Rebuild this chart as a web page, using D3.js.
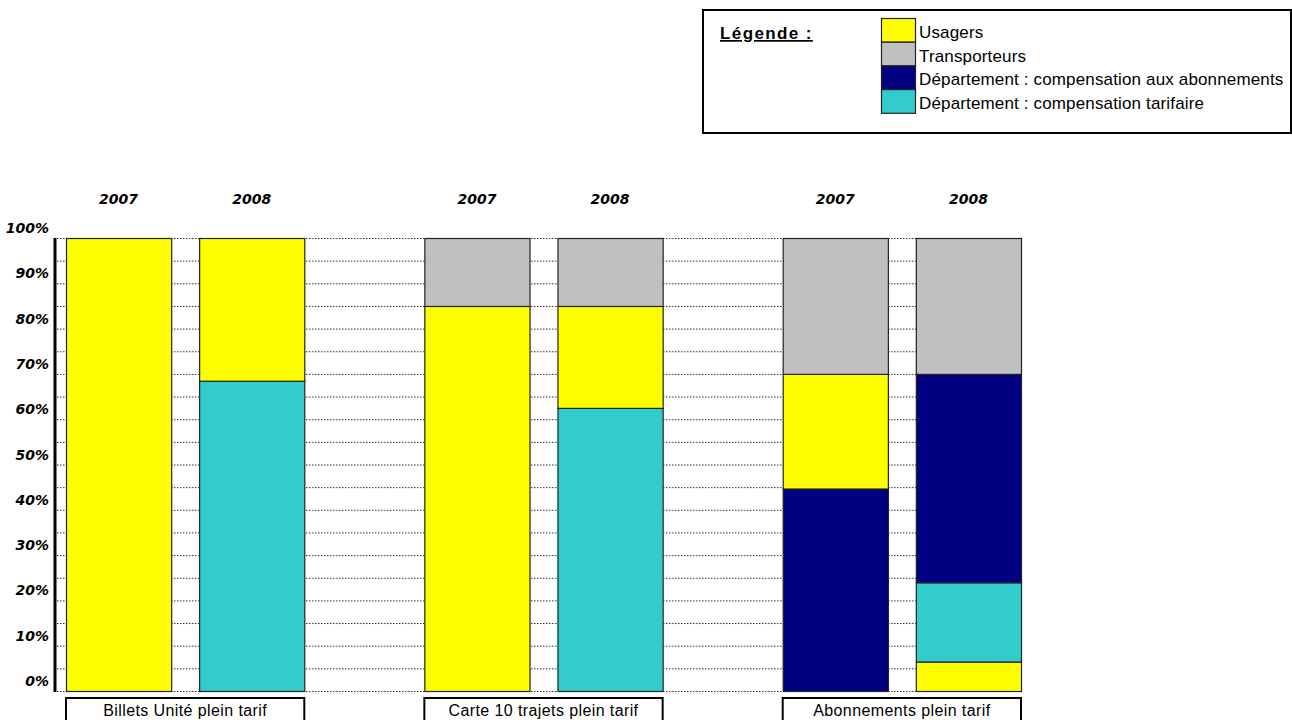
<!DOCTYPE html>
<html><head><meta charset="utf-8">
<script src="https://cdn.jsdelivr.net/npm/d3@7"></script>
<style>body{margin:0;background:#fff}svg{display:block}</style>
</head><body>
<svg id="c" width="1292" height="720"></svg>
<script>
const seriesNames = ["Usagers","Transporteurs","Département : compensation aux abonnements","Département : compensation tarifaire"];
const seriesColors = ["#ffff00","#c0c0c0","#000080","#33cccc"];
const categories = ["Billets Unité plein tarif","Carte 10 trajets plein tarif","Abonnements plein tarif"];
const years = ["2007","2008"];
// one value per bar (cat × year), in percent
const usagers         = [100, 31.5, 85, 22.5, 25.3, 6.5];
const transporteurs   = [0, 0, 15, 15, 30, 30];
const compAbonnements = [0, 0, 0, 0, 44.7, 46];
const compTarifaire   = [0, 68.5, 0, 62.5, 0, 17.5];
// stacking order (bottom to top) per bar, as series index
const stackOrder = [[0],[3,0],[0,1],[3,0,1],[2,0,1],[0,3,2,1]];
const yTicks = [0,10,20,30,40,50,60,70,80,90,100];
const gridTicks = d3.range(0,101,5);

const svg = d3.select("#c");
const font = "'Liberation Sans', Arial, sans-serif";
const heavy = "'DejaVu Sans', Verdana, sans-serif";
const seriesVals = [usagers, transporteurs, compAbonnements, compTarifaire];

const y = d3.scaleLinear().domain([0,100]).range([691,238]);
const x0 = d3.scaleBand().domain(categories).range([66,1021]).paddingInner(0.335);
const x1 = d3.scaleBand().domain(years).range([0,x0.bandwidth()]).paddingInner(0.21);

// gridlines
svg.append("g").selectAll("line").data(gridTicks).join("line")
  .attr("x1",57).attr("x2",x0.range()[1]+1).attr("y1",d=>y(d)+0.5).attr("y2",d=>y(d)+0.5)
  .attr("stroke","#333").attr("stroke-width",1).attr("stroke-dasharray","1.5,1.5");

// axis line
svg.append("line").attr("x1",55).attr("x2",55).attr("y1",y(100)).attr("y2",y(0)+1)
  .attr("stroke","#000").attr("stroke-width",3);

// y labels
svg.append("g").selectAll("text").data(yTicks).join("text")
  .attr("x",49).attr("y",d=>y(d)-5).attr("text-anchor","end")
  .attr("font-family",heavy).attr("font-weight","bold").attr("font-style","italic")
  .attr("font-size",14).text(d=>d+"%");

// bars
const bars = [];
categories.forEach((c,ci)=>years.forEach((yr,yi)=>bars.push({c,yr,i:ci*2+yi})));
bars.forEach(b=>{
  let base = 0;
  const g = svg.append("g").attr("transform",`translate(${x0(b.c)+x1(b.yr)},0)`);
  stackOrder[b.i].forEach(si=>{
    const v = seriesVals[si][b.i];
    g.append("rect").attr("x",0.5).attr("width",x1.bandwidth())
      .attr("y",y(base+v)+0.5).attr("height",y(base)-y(base+v))
      .attr("fill",seriesColors[si]).attr("stroke","#222").attr("stroke-width",1.2);
    base += v;
  });
  svg.append("text").attr("x",x0(b.c)+x1(b.yr)+x1.bandwidth()/2).attr("y",204)
    .attr("text-anchor","middle").attr("font-family",heavy).attr("font-weight","bold")
    .attr("font-style","italic").attr("font-size",14).text(b.yr);
});

// category boxes
categories.forEach(c=>{
  svg.append("rect").attr("x",x0(c)).attr("y",698).attr("width",x0.bandwidth()).attr("height",40)
    .attr("fill","#fff").attr("stroke","#000").attr("stroke-width",2);
  svg.append("text").attr("x",x0(c)+x0.bandwidth()/2).attr("y",715.5).attr("text-anchor","middle")
    .attr("font-family",font).attr("font-size",16).attr("letter-spacing",0.4).text(c);
});

// legend
const lg = svg.append("g");
lg.append("rect").attr("x",703).attr("y",10).attr("width",588).attr("height",123)
  .attr("fill","#fff").attr("stroke","#000").attr("stroke-width",2);
lg.append("text").attr("x",720).attr("y",39).attr("font-family",font).attr("font-weight","bold")
  .attr("font-size",17).attr("letter-spacing",1.4).attr("text-decoration","underline").text("Légende :");
seriesNames.forEach((n,i)=>{
  lg.append("rect").attr("x",881.5).attr("y",18.5+i*23.7).attr("width",34).attr("height",23.7)
    .attr("fill",seriesColors[i]).attr("stroke","#222").attr("stroke-width",1.2);
  lg.append("text").attr("x",919).attr("y",18+i*23.7+20).attr("font-family",font)
    .attr("font-size",17).attr("letter-spacing",0.15).text(n);
});
</script>
</body></html>
